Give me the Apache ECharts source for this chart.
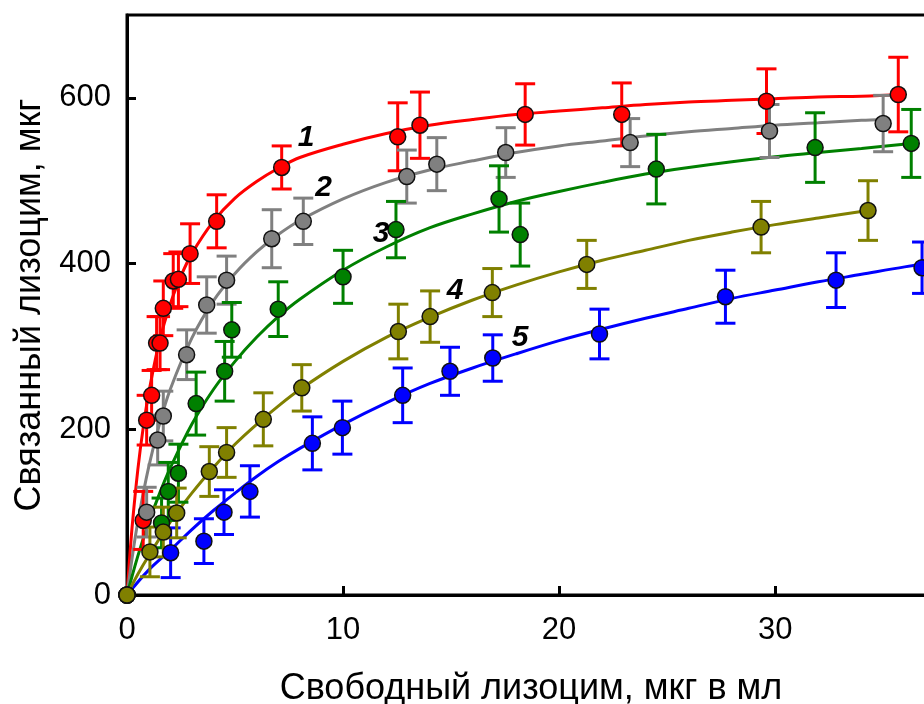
<!DOCTYPE html>
<html>
<head>
<meta charset="utf-8">
<script src="https://cdn.jsdelivr.net/npm/echarts@6/dist/echarts.min.js"></script>
<style>
html,body{margin:0;padding:0;background:#fff;}
#c{width:924px;height:704px;}
</style>
</head>
<body>
<div id="c"></div>
<script>
// ---- data (x, y, error) ----
const pts1 = [[0,0,0],[0.75,90,35],[0.91,211,30],[1.14,241,30],[1.37,304,32],[1.53,304,32],[1.68,346,33],[2.14,379,33],[2.38,381,33],[2.92,412,36],[4.15,451,32],[7.16,516,26],[12.53,553,41],[13.56,567,40],[18.43,580,37],[22.9,580,38],[29.6,596,39],[35.7,604,45]];
const pts2 = [[0,0,0],[0.91,100,30],[1.42,187,30],[1.68,216,30],[2.76,290,30],[3.69,350,34],[4.61,380,29],[6.7,430,35],[8.16,451,28],[12.95,505,32],[14.34,520,32],[17.53,534,30],[23.29,546,29],[29.74,560,32],[35.0,569,34]];
const pts3 = [[0,0,0],[1.6,87,30],[1.91,125,35],[2.38,147,35],[3.2,231,38],[4.52,270,36],[4.85,320,33],[7.0,345,33],[10.0,384,32],[12.45,441,34],[17.22,478,40],[18.2,435,38],[24.5,514,42],[31.85,540,42],[36.3,545,41]];
const pts4 = [[0,0,0],[1.06,52,30],[1.68,76,30],[2.3,99,30],[3.81,149,30],[4.61,172,30],[6.31,212,32],[8.09,250,28],[12.56,318,33],[14.03,336,31],[16.91,365,29],[21.28,399,29],[29.35,444,31],[34.3,464,36]];
const pts5 = [[0,0,0],[2.02,51,30],[3.56,65,27],[4.49,100,27],[5.69,125,31],[8.58,183,32],[9.97,202,32],[12.76,241,33],[14.95,270,29],[16.93,286,28],[21.87,315,30],[27.7,360,32],[32.82,380,33],[36.8,395,31]];

// ---- fitted curves ----
const curve1 = [[0,0],[0.1,37],[0.25,86],[0.5,151],[0.75,202],[1,243],[1.5,306],[2,351],[2.5,385],[3,412],[4,451],[5,479],[6,499],[7,515],[8,528],[10,544],[12,557],[14,567],[16,574],[18,580],[20,584],[22,588],[24,592],[26,595],[28,597],[30,599],[32,601],[34,602],[36,604]];
const curve2 = [[0,0],[0.25,47],[0.5,88],[1,154],[1.5,206],[2,248],[3,310],[4,355],[5,388],[6,414],[7,435],[8,452],[10,478],[12,498],[14,513],[16,524],[18,534],[20,542],[22,548],[24,554],[26,559],[28,563],[30,567],[32,570],[34,573],[35,574]];
const curve3 = [[0,0],[0.5,47],[1,87],[1.5,122],[2,153],[3,206],[4,248],[5,282],[6,311],[7,336],[8,357],[10,392],[12,420],[14,443],[16,460],[18,475],[20,487],[22,498],[24,508],[26,516],[28,523],[30,529],[32,534],[34,539],[36.3,545]];
const curve4 = [[0,0],[0.5,25],[1,47],[2,88],[3,123],[4,154],[5,182],[6,206],[7,228],[8,248],[10,282],[12,311],[14,335],[16,356],[18,374],[20,390],[22,404],[24,416],[26,428],[28,438],[30,447],[32,455],[34.3,464]];
const curve5 = [[0,0],[1,30],[2,54],[3,79],[4,102],[5,123],[6,143],[7,161],[8,177],[10,206],[12,232],[14,255],[16,274],[18,291],[20,307],[22,321],[24,334],[26,346],[28,358],[30,368],[32,378],[34,387],[36,396],[38,404]];

const curveLabels = ['1','2','3','4','5'];
const labelAnchors = [[8.29,552],[9.1,491],[11.76,436],[15.19,367],[18.19,311]];

const xTicks = [0,10,20,30];
const xMax = 37.4;
const yTicks = [0,200,400,600];
const yMax = 700;

const colors = ['#ff0000','#808080','#008000','#808000','#0000ff'];
const ptsAll = [pts1,pts2,pts3,pts4,pts5];
const curvesAll = [curve1,curve2,curve3,curve4,curve5];
const order = [0,1,2,4,3]; // drawing order

const FONT = '"Liberation Sans", Arial, sans-serif';

const series = [];
order.forEach(function(i){
  series.push({
    type:'line', data: curvesAll[i], smooth: 0.35, showSymbol:false,
    lineStyle:{color:colors[i], width:3}, z:2, silent:true, clip:false
  });
});
order.forEach(function(i){
  series.push({
    type:'custom', data: ptsAll[i], z:3, clip:false, silent:true,
    renderItem: function(params, api){
      const x = api.value(0), y = api.value(1), e = api.value(2);
      if (!e) return null;
      const top = api.coord([x, y + e]);
      const bot = api.coord([x, y - e]);
      const hw = 10;
      const st = {stroke: colors[i], lineWidth: 3};
      return {type:'group', children:[
        {type:'line', shape:{x1:top[0],y1:top[1],x2:bot[0],y2:bot[1]}, style:st},
        {type:'line', shape:{x1:top[0]-hw,y1:top[1],x2:top[0]+hw,y2:top[1]}, style:st},
        {type:'line', shape:{x1:bot[0]-hw,y1:bot[1],x2:bot[0]+hw,y2:bot[1]}, style:st}
      ]};
    },
    encode:{x:0,y:1}
  });
});
order.forEach(function(i){
  series.push({
    type:'scatter', data: ptsAll[i].map(function(p){return [p[0],p[1]];}),
    symbol:'circle', symbolSize:16, z:4, clip:false, silent:true,
    itemStyle:{color:colors[i], borderColor:'#111', borderWidth:1.5, opacity:1}
  });
});
series.push({
  type:'custom', z:6, silent:true, clip:false,
  data: labelAnchors.map(function(p, k){ return [p[0], p[1], k]; }),
  encode:{x:0,y:1},
  renderItem: function(params, api){
    const c = api.coord([api.value(0), api.value(1)]);
    return {type:'text', style:{text: curveLabels[api.value(2)], x:c[0], y:c[1],
      align:'center', verticalAlign:'middle', fill:'#000',
      font:'italic bold 30px ' + FONT}};
  }
});

const chart = echarts.init(document.getElementById('c'), null, {renderer:'canvas'});
chart.setOption({
  animation:false,
  backgroundColor:'#fff',
  grid:{left:127, top:15, bottom:109, right:-11, show:true, borderColor:'#000', borderWidth:3, outerBoundsMode:'none'},
  xAxis:{
    type:'value', min:0, max:xMax, interval:10,
    axisLine:{show:true, lineStyle:{color:'#000', width:3}},
    axisTick:{show:true, inside:true, length:9, lineStyle:{color:'#000', width:3}},
    splitLine:{show:false},
    axisLabel:{color:'#000', fontSize:31, fontFamily:FONT, margin:20, showMaxLabel:false,
      formatter:function(v){ return xTicks.indexOf(v) >= 0 ? String(v) : ''; }},
    name:'Свободный лизоцим, мкг в мл', nameLocation:'middle', nameGap:76,
    nameTextStyle:{color:'#000', fontSize:36, fontFamily:FONT}
  },
  yAxis:{
    type:'value', min:0, max:yMax, interval:200,
    axisLine:{show:true, lineStyle:{color:'#000', width:3}},
    axisTick:{show:true, inside:true, length:9, lineStyle:{color:'#000', width:3}},
    splitLine:{show:false},
    axisLabel:{color:'#000', fontSize:31, fontFamily:FONT, margin:16, showMaxLabel:false,
      formatter:function(v){ return yTicks.indexOf(v) >= 0 ? String(v) : ''; }},
    name:'Связанный лизоцим, мкг', nameLocation:'middle', nameGap:74, nameRotate:90,
    nameTextStyle:{color:'#000', fontSize:36, fontFamily:FONT}
  },
  series: series
});
</script>
</body>
</html>
